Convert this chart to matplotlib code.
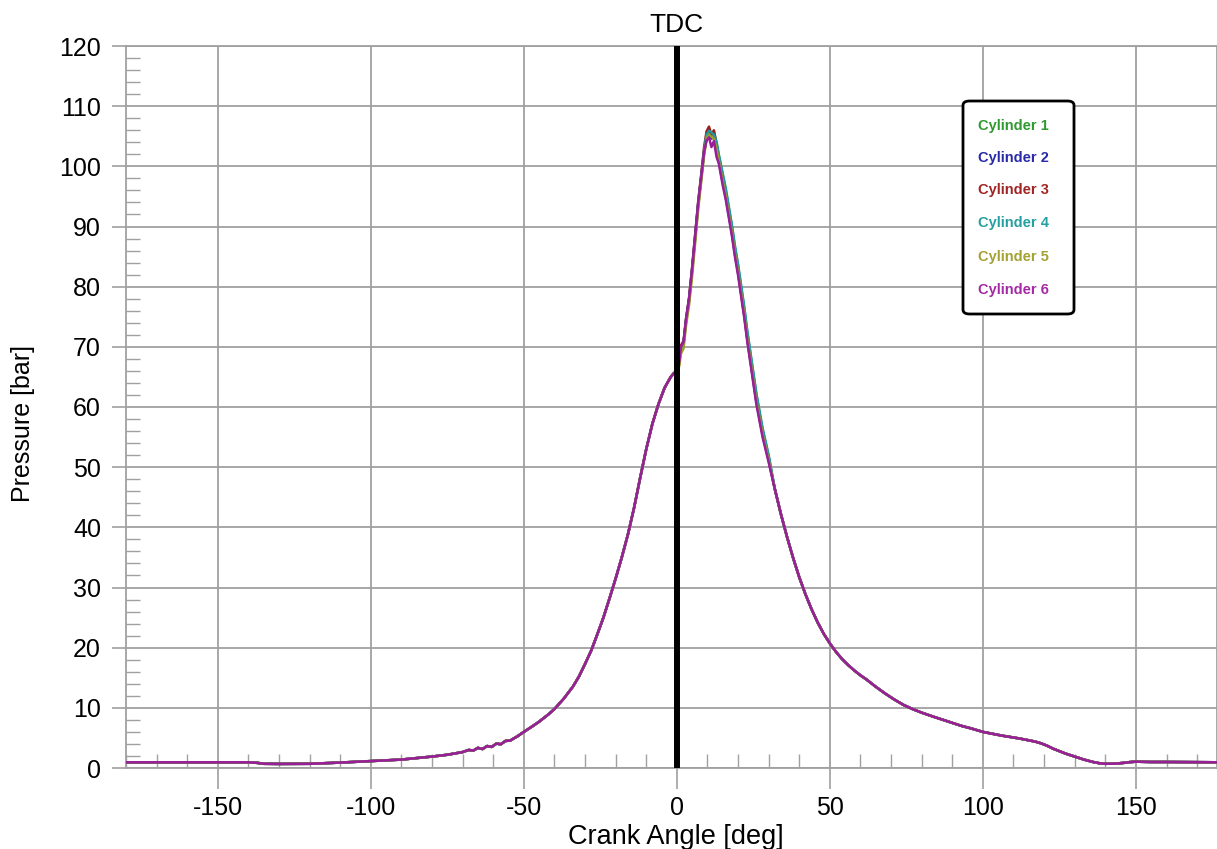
import matplotlib
matplotlib.use("Agg")
import matplotlib.pyplot as plt
from matplotlib.patches import FancyBboxPatch
from matplotlib.ticker import MultipleLocator

plt.rcParams['font.family'] = ['Liberation Sans', 'DejaVu Sans']
plt.rcParams['axes.unicode_minus'] = False

# ---------------- data ----------------
cylinders = ["Cylinder 1", "Cylinder 2", "Cylinder 3", "Cylinder 4", "Cylinder 5", "Cylinder 6"]
line_colors = ["#2a962a", "#22229a", "#9a1e1e", "#1c9a9a", "#9c9c2c", "#9a1e9a"]
text_colors = ["#2f9a2f", "#2a2aa8", "#a02424", "#25a0a0", "#a3a232", "#a52aa5"]

# compression stroke (common to all cylinders)
angle_pre = [-180, -170, -160, -150, -140, -137, -135, -130, -120, -110, -100, -90, -80, -75,
             -70, -68, -66.5, -65, -63.5, -62, -60.5, -59, -57.5, -56, -54.5, -52, -50,
             -47, -45, -42, -40, -37, -34, -32, -30, -28, -26, -24, -22, -20, -18, -16,
             -14, -12, -10, -8, -6, -4, -2, -1, 0]
p_pre = [0.95, 0.95, 0.95, 0.95, 0.95, 0.85, 0.7, 0.68, 0.7, 0.9, 1.15, 1.4, 1.9, 2.2,
         2.65, 3.0, 2.9, 3.35, 3.15, 3.65, 3.5, 4.05, 3.95, 4.5, 4.55, 5.3, 6.0,
         7.0, 7.7, 8.9, 9.8, 11.5, 13.5, 15.2, 17.3, 19.5, 22.2, 25.0, 28.2, 31.5, 35.0, 38.8,
         43.2, 48.2, 53.0, 57.2, 60.5, 63.2, 65.0, 65.6, 66.0]

# combustion peak region (per cylinder)
angle_peak = [0.8, 1.3, 2.2, 3.0, 4.0, 5.0, 6.0, 7.0, 8.0, 8.9, 9.7, 10.5, 11.3, 12.1, 13.0, 13.7,
              15, 16, 17, 18, 19, 20, 21, 22, 23, 24, 25, 26, 28, 30]
cyl1_peak = [67.3, 69.6, 70.5, 74.2, 77.6, 82.6, 88.0, 93.6, 98.1, 102.2, 104.8, 105.6, 105.2, 105.8, 103.8, 101.8,
             98.5, 96.0, 93.0, 90.0, 86.5, 83.5, 80.0, 76.5, 72.5, 69.0, 65.5, 62.0, 56.3, 51.8]
cyl2_peak = [67.5, 70.0, 70.8, 74.5, 78.0, 83.0, 88.5, 94.0, 98.5, 102.5, 104.5, 105.2, 104.6, 104.8, 102.8, 100.8,
             97.3, 94.8, 91.8, 88.8, 85.3, 82.3, 78.8, 75.3, 71.3, 67.8, 64.3, 60.8, 55.4, 51.1]
cyl3_peak = [67.6, 70.2, 71.0, 74.7, 78.2, 83.3, 88.8, 94.3, 98.8, 103.2, 105.8, 106.6, 105.2, 106.0, 103.5, 101.2,
             97.6, 95.1, 92.1, 89.1, 85.6, 82.6, 79.1, 75.6, 71.6, 68.1, 64.6, 61.1, 55.6, 51.3]
cyl4_peak = [67.4, 69.8, 70.6, 74.3, 77.8, 82.8, 88.2, 93.8, 98.3, 102.6, 105.3, 105.9, 105.6, 105.3, 104.0, 102.0,
             98.8, 96.3, 93.2, 90.2, 86.7, 83.7, 80.2, 76.7, 72.7, 69.2, 65.7, 62.2, 56.5, 52.0]
cyl5_peak = [66.8, 68.8, 69.8, 73.5, 77.0, 81.8, 87.3, 93.0, 97.6, 101.8, 104.6, 105.3, 104.9, 104.6, 102.9, 101.0,
             97.5, 95.0, 92.0, 89.0, 85.5, 82.5, 79.0, 75.5, 71.5, 68.0, 64.5, 61.0, 55.5, 51.2]
cyl6_peak = [67.5, 70.0, 70.8, 74.5, 78.0, 83.0, 88.5, 94.0, 98.5, 102.4, 104.3, 104.8, 103.2, 104.2, 101.5, 100.5,
             96.8, 94.4, 91.4, 88.4, 84.9, 81.9, 78.4, 74.9, 70.9, 67.4, 63.9, 60.4, 55.0, 50.8]
peaks = [cyl1_peak, cyl2_peak, cyl3_peak, cyl4_peak, cyl5_peak, cyl6_peak]

# expansion stroke (common to all cylinders)
angle_post = [32, 34, 36, 38, 40, 42, 44, 46, 48, 50, 52, 54, 56, 58, 60, 62, 65, 68, 71, 74, 77, 80,
              84, 87, 90, 93, 96, 100, 103, 106, 109, 112, 115, 117, 119, 121, 123, 125, 127, 130,
              133, 136, 138, 140, 143, 146, 148, 150, 155, 160, 170, 177]
p_post = [46.4, 42.2, 38.4, 34.9, 31.7, 28.9, 26.4, 24.2, 22.3, 20.7, 19.3, 18.1, 17.1, 16.2, 15.4, 14.7,
          13.5, 12.4, 11.4, 10.5, 9.8, 9.2, 8.5, 8.0, 7.5, 7.0, 6.6, 6.0, 5.7, 5.4, 5.15, 4.9, 4.6,
          4.4, 4.1, 3.7, 3.2, 2.8, 2.4, 1.9, 1.4, 1.0, 0.8, 0.7, 0.72, 0.85, 0.98, 1.05, 1.0, 1.0,
          0.97, 0.95]

x_ticks = [-150, -100, -50, 0, 50, 100, 150]
y_ticks = [0, 10, 20, 30, 40, 50, 60, 70, 80, 90, 100, 110, 120]

# ---------------- figure ----------------
W, H = 1217, 849
fig = plt.figure(figsize=(W / 100, H / 100), dpi=100)
ax = fig.add_axes([126 / W, 1 - 768 / H, (W - 126) / W, (768 - 46) / H])

grid_c = "#a0a0a0"
for name, cyl_peak, col in zip(cylinders, peaks, line_colors):
    ax.plot(angle_pre + angle_peak + angle_post, p_pre + cyl_peak + p_post,
            color=col, lw=1.8, label=name, zorder=3)

ax.axvline(0, color="black", lw=4.3, zorder=4)

ax.set_xlim(-180, 176.5)
ax.set_ylim(0, 120)
ax.set_xticks(x_ticks)
ax.set_yticks(y_ticks)
ax.xaxis.set_minor_locator(MultipleLocator(10))
ax.yaxis.set_minor_locator(MultipleLocator(2))
ax.grid(True, which="major", color=grid_c, lw=1.3, zorder=0)
ax.set_axisbelow(True)

ax.tick_params(axis="x", which="major", direction="out", length=15, width=1.2, color=grid_c,
               labelsize=18, pad=5)
ax.tick_params(axis="y", which="major", direction="out", length=10, width=1.2, color=grid_c,
               labelsize=18, pad=8)
ax.tick_params(axis="both", which="minor", direction="in", length=10, width=1.0, color=grid_c)

for s in ["left", "bottom", "top", "right"]:
    ax.spines[s].set_color(grid_c)
    ax.spines[s].set_linewidth(1.3)

fig.text(23 / W, 1 - 423 / H, "Pressure [bar]", rotation=90, ha="center", va="center", fontsize=18)
fig.text(676 / W, 1 - 837 / H, "Crank Angle [deg]", ha="center", va="center", fontsize=19.5)
fig.text(676 / W, 1 - 25 / H, "TDC", ha="center", va="center", fontsize=19)

# legend box (text only, coloured)
x0, x1 = (963 - 126) / 1091, (1074 - 126) / 1091
y0, y1 = (768 - 314) / 722, (768 - 101) / 722
box = FancyBboxPatch((x0, y0), x1 - x0, y1 - y0, transform=ax.transAxes,
                     boxstyle="round,pad=0,rounding_size=0.006", facecolor="white",
                     edgecolor="black", lw=2.0, zorder=5)
ax.add_patch(box)
text_y_px = [126, 158, 190, 223, 257, 290]
for name, tc, ypx in zip(cylinders, text_colors, text_y_px):
    ax.text((978 - 126) / 1091, (768 - ypx) / 722, name, transform=ax.transAxes,
            color=tc, fontsize=10.5, fontweight="bold", ha="left", va="center", zorder=6)

fig.savefig("out.png", dpi=100)
